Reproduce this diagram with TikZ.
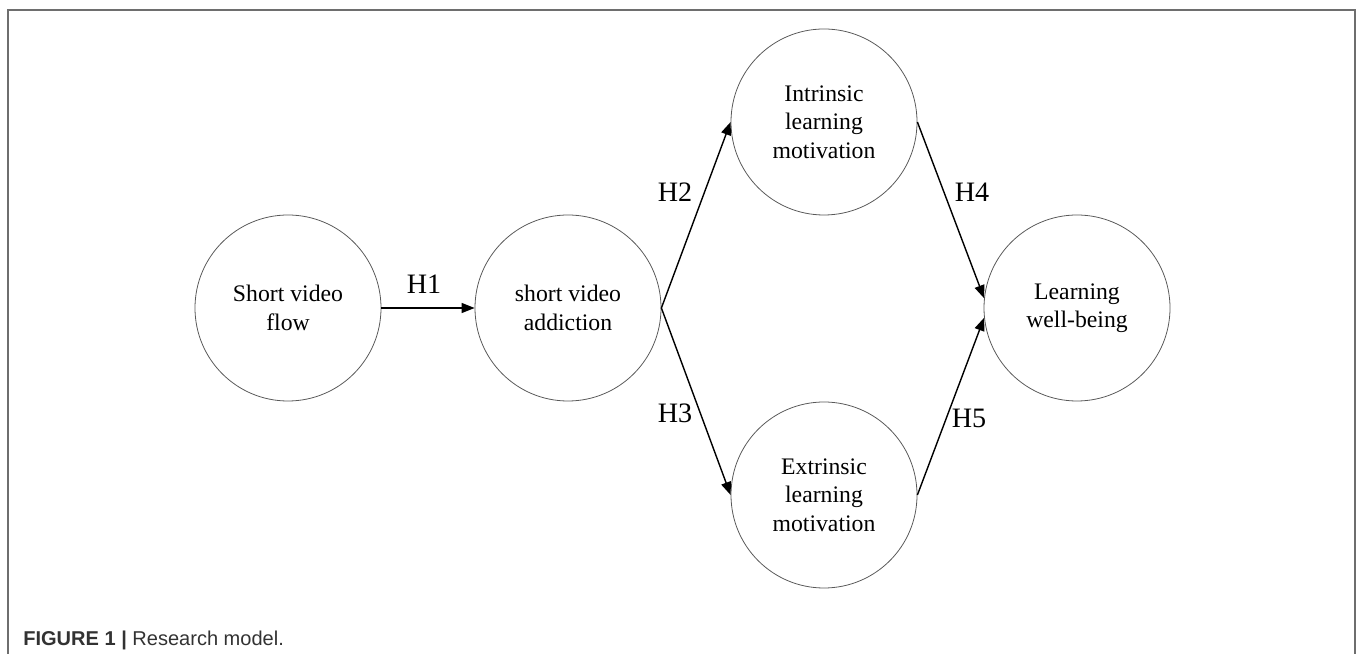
\documentclass[tikz,border=0pt]{standalone}
\usepackage{fontspec}
\setmainfont{Liberation Serif}
\newfontfamily\capfont{Liberation Sans}
\usepackage{xcolor}
\usepackage{tikz}
\usetikzlibrary{positioning}
\usetikzlibrary{arrows.meta}
\definecolor{framegray}{RGB}{110,110,110}
\definecolor{captext}{RGB}{50,50,50}

\begin{document}
\begin{tikzpicture}
  [
    var/.style={circle, draw=black!65, line width=0.45pt, minimum size=3.72cm,
    inner sep=0pt, align=center, font=\fontsize{13.5}{16.2}\selectfont},
    hyp/.style={font=\fontsize{16}{19}\selectfont, inner sep=0pt},
    path/.style={draw=black, line width=0.8pt,
    -{Triangle[length=0.26cm,width=0.2cm]}},
    frame/.style={draw=framegray, line width=0.7pt}
  ]
  \useasboundingbox (0,0) rectangle (27.16,13.08);
  \draw [frame] (0.16,0) -- (0.16,12.88) -- (27.10,12.88) -- (27.10,0);

  \node (flow)  at ( 5.76, 6.92) [var] {Short video\\flow};
  \node (addic) at (11.36, 6.92) [var] {short video\\addiction};
  \node (intr)  at (16.48,10.64) [var] {Intrinsic\\learning\\motivation};
  \node (extr)  at (16.48, 3.18) [var] {Extrinsic\\learning\\motivation};
  \node (well)  at (21.54, 6.92) [var] {Learning\\well-being};

  \draw [path] (flow.east)  -- (addic.west);
  \draw [path] (addic.east) -- (intr.west);
  \draw [path] (addic.east) -- (extr.west);
  \draw [path] (intr.east)  -- (well.174);
  \draw [path] (extr.east)  -- (well.186);

  \node (h1) at ( 8.48, 7.40) [hyp] {H1};
  \node (h2) at (13.50, 9.24) [hyp] {H2};
  \node (h3) at (13.50, 4.82) [hyp] {H3};
  \node (h4) at (19.44, 9.24) [hyp] {H4};
  \node (h5) at (19.38, 4.72) [hyp] {H5};

  \node (cap) at (0.46,0.16) [anchor=base west, inner sep=0pt,
    font=\capfont\fontsize{11.4}{13}\selectfont, text=captext]
    {\textbf{FIGURE 1 |} Research model.};
\end{tikzpicture}
\end{document}
